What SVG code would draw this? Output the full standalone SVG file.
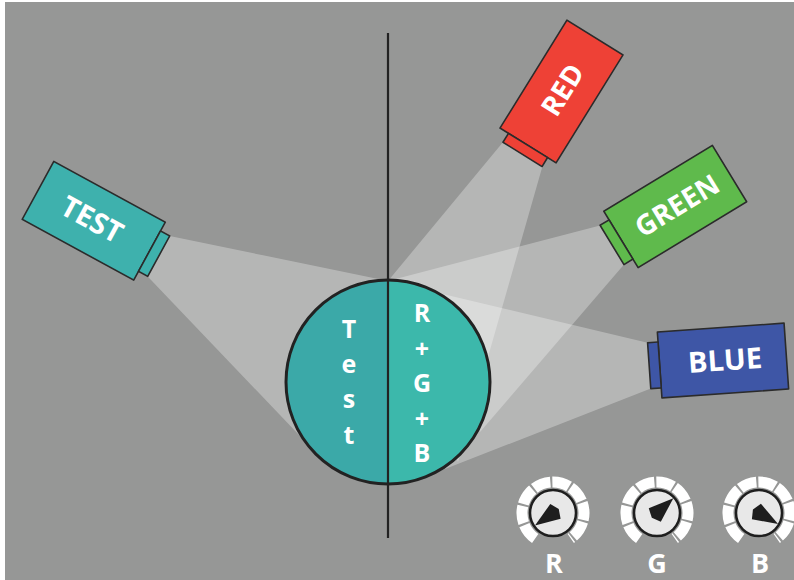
<svg xmlns="http://www.w3.org/2000/svg" width="794" height="580" viewBox="0 0 794 580">
  <style>
    .body { stroke: #2b2b2b; stroke-width: 1.6; stroke-linejoin: round; }
    .label { font-family: "Open Sans", "Liberation Sans", sans-serif; font-weight: 700; fill: #ffffff; text-anchor: middle; }
    .beam { fill: #ffffff; fill-opacity: 0.3; stroke: none; }
    .ring { fill: none; stroke: #ffffff; stroke-width: 11; stroke-dasharray: 17.4 2; }
    .dial { fill: #e8e8e8; stroke: #1e1e1e; stroke-width: 2.5; }
    .pointer { fill: #1e1e1e; }
  </style>

  <!-- backdrop -->
  <rect x="0" y="0" width="794" height="580" fill="#ffffff"/>
  <rect x="5" y="2" width="789" height="578" fill="#969796"/>

  <!-- light beams -->
  <g id="connectors">
    <polygon class="beam" points="169.7,236 147.7,276.4 300,436 388,281"/>
    <polygon class="beam" points="502.9,142.3 542.4,166.5 458,462 388,281"/>
    <polygon class="beam" points="600.1,225.4 624,264.6 480,432 388,281"/>
    <polygon class="beam" points="647.6,342.7 650.8,388.6 422,478 388,281"/>
  </g>

  <!-- projectors -->
  <g id="proj-test" transform="translate(93.75 220.75) rotate(28.6)">
    <rect class="body" x="-63.5" y="-33" width="127" height="66" fill="#3eb1ad"/>
    <rect class="body" x="63.5" y="-23" width="10.5" height="46" fill="#3eb1ad"/>
    <text class="label" x="-2" y="10" font-size="29">TEST</text>
  </g>

  <g id="proj-red" transform="translate(561.5 91.5) rotate(-58.2)">
    <rect class="body" x="-63.5" y="-33" width="127" height="66" fill="#ee4136"/>
    <rect class="body" x="-74" y="-23" width="10.5" height="46" fill="#ee4136"/>
    <text class="label" x="2" y="10" font-size="28">RED</text>
  </g>

  <g id="proj-green" transform="translate(675.25 206.5) rotate(-31.3)">
    <rect class="body" x="-63.5" y="-33" width="127" height="66" fill="#5fba4c"/>
    <rect class="body" x="-74" y="-23" width="10.5" height="46" fill="#5fba4c"/>
    <text class="label" x="2" y="10" font-size="28">GREEN</text>
  </g>

  <g id="proj-blue" transform="translate(723 360.5) rotate(-4)">
    <rect class="body" x="-63.5" y="-33" width="127" height="66" fill="#3e56a6"/>
    <rect class="body" x="-74" y="-23" width="10.5" height="46" fill="#3e56a6"/>
    <text class="label" x="2" y="10" font-size="29">BLUE</text>
  </g>

  <!-- split comparison disc -->
  <g id="disc">
    <path d="M388,280 A102,102 0 0 0 388,484 Z" fill="#3ba9a8"/>
    <path d="M388,280 A102,102 0 0 1 388,484 Z" fill="#3cb8ab"/>
    <circle cx="388" cy="382" r="102" fill="none" stroke="#222222" stroke-width="3"/>
    <g class="label" font-size="25">
      <text x="349" y="338">T</text>
      <text x="349" y="373">e</text>
      <text x="349" y="408">s</text>
      <text x="349" y="444">t</text>
      <text x="422" y="322">R</text>
      <text x="422" y="358">+</text>
      <text x="422" y="392">G</text>
      <text x="422" y="428">+</text>
      <text x="422" y="462">B</text>
    </g>
  </g>

  <!-- dividing line -->
  <line id="divider" x1="388" y1="33" x2="388" y2="538" stroke="#222222" stroke-width="2.2"/>

  <!-- control knobs -->
  <g id="knob-r" transform="translate(553 513)">
    <path class="ring" d="M-17.8,25.4 A31,31 0 1 1 17.8,25.4"/>
    <circle class="dial" r="23"/>
    <polygon class="pointer" transform="rotate(235)" points="0,-22 9,3 0,7 -9,3"/>
  </g>
  <g id="knob-g" transform="translate(657 513)">
    <path class="ring" d="M-17.8,25.4 A31,31 0 1 1 17.8,25.4"/>
    <circle class="dial" r="23"/>
    <polygon class="pointer" transform="rotate(48)" points="0,-22 9,3 0,7 -9,3"/>
  </g>
  <g id="knob-b" transform="translate(759 513)">
    <path class="ring" d="M-17.8,25.4 A31,31 0 1 1 17.8,25.4"/>
    <circle class="dial" r="23"/>
    <polygon class="pointer" transform="rotate(120)" points="0,-22 9,3 0,7 -9,3"/>
  </g>
  <g class="label" font-size="27">
    <text x="554" y="573">R</text>
    <text x="657" y="573">G</text>
    <text x="760" y="573">B</text>
  </g>
</svg>
